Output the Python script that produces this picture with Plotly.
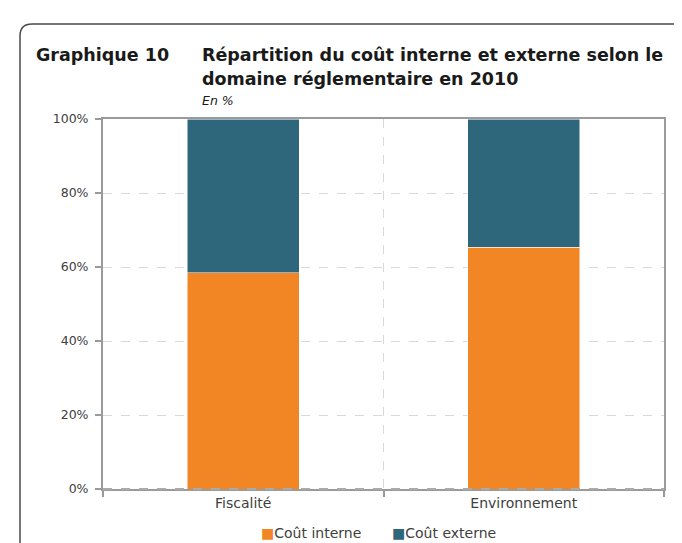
import plotly.graph_objects as go

categories = ["Fiscalité", "Environnement"]
cout_interne = [58.4, 65.4]
cout_externe = [41.6, 34.6]
series_names = ["Coût interne", "Coût externe"]
y_ticks = [0, 20, 40, 60, 80, 100]
y_ticktext = ["0%", "20%", "40%", "60%", "80%", "100%"]
title_num = "Graphique 10"
title_l1 = "Répartition du coût interne et externe selon le"
title_l2 = "domaine réglementaire en 2010"
subtitle = "En %"

ORANGE = "#F28524"
BLUE = "#2E677C"
TXT = "#404040"
AX = "#9a9a9a"
FONT = "DejaVu Sans"

fig = go.Figure()
fig.add_trace(go.Bar(x=categories, y=cout_interne, name=series_names[0], showlegend=False,
                     marker=dict(color=ORANGE, line=dict(color="white", width=0.5))))
fig.add_trace(go.Bar(x=categories, y=cout_externe, name=series_names[1], showlegend=False,
                     marker=dict(color=BLUE, line=dict(color="white", width=0.5))))

L, R, T, B = 95, 26, 111, 62
W, H = 682, 543
pw, ph = W - L - R, H - T - B

def px(x):
    return (x - L) / pw

def py(y):
    return (H - B - y) / ph

fig.update_layout(
    width=W, height=H,
    margin=dict(l=L, r=R, t=T, b=B),
    barmode="stack", bargap=0.6,
    plot_bgcolor="white", paper_bgcolor="white",
    font=dict(family=FONT, size=12, color=TXT),
    showlegend=False,
)
fig.update_xaxes(
    type="category", tickson="boundaries", ticks="outside", ticklen=6, tickcolor=AX,
    tickwidth=2, showline=True, linecolor=AX, linewidth=2, mirror=True,
    showgrid=True, gridcolor="#d9d9d9", griddash="dash", gridwidth=1,
    tickfont=dict(size=14, color=TXT),
)
fig.update_yaxes(
    range=[0, 100], tickvals=y_ticks, ticktext=y_ticktext, ticks="outside", ticklen=6,
    tickcolor=AX, tickwidth=2, showline=True, linecolor=AX, linewidth=2, mirror=True,
    showgrid=True, gridcolor="#d9d9d9", griddash="dash", gridwidth=1,
    tickfont=dict(size=12.5, color=TXT), zeroline=False, ticklabelstandoff=4,
)

# zero line dashed over bars
fig.add_shape(type="line", xref="paper", yref="paper", x0=0, x1=1, y0=0, y1=0,
              line=dict(color="#aaaaaa", width=2, dash="dash"), layer="above")

# frame with rounded top-left corner
fx = px(12)
fy = py(16)
dx, dy = 12 / pw, 12 / ph
fig.add_shape(type="path", xref="paper", yref="paper",
              path=f"M {fx},{py(560)} L {fx},{fy - dy} Q {fx},{fy} {fx + dx},{fy} L {px(700)},{fy}",
              line=dict(color="#4a4a4a", width=1.5))

TS = 17.5
fig.add_annotation(text=f"<b>{title_num}</b>", xref="paper", yref="paper",
                   x=px(26), y=py(47), xanchor="left", yanchor="middle", showarrow=False,
                   font=dict(size=TS, color="#1a1a1a"))
fig.add_annotation(text=f"<b>{title_l1}</b>", xref="paper", yref="paper",
                   x=px(192), y=py(47), xanchor="left", yanchor="middle", showarrow=False,
                   font=dict(size=TS, color="#1a1a1a"))
fig.add_annotation(text=f"<b>{title_l2}</b>", xref="paper", yref="paper",
                   x=px(192), y=py(71), xanchor="left", yanchor="middle", showarrow=False,
                   font=dict(size=TS, color="#1a1a1a"))
fig.add_annotation(text=f"<i>{subtitle}</i>", xref="paper", yref="paper",
                   x=px(192), y=py(92), xanchor="left", yanchor="middle", showarrow=False,
                   font=dict(size=12.5, color="#1a1a1a"))

# legend as text with coloured squares
for name, col, lx in [(series_names[0], ORANGE, 251), (series_names[1], BLUE, 382)]:
    fig.add_annotation(text=f"<span style='color:{col}'>■</span>{name}", xref="paper", yref="paper",
                       x=px(lx), y=py(525), xanchor="left", yanchor="middle", showarrow=False,
                       font=dict(size=14, color=TXT))

fig.write_html("out.html")
